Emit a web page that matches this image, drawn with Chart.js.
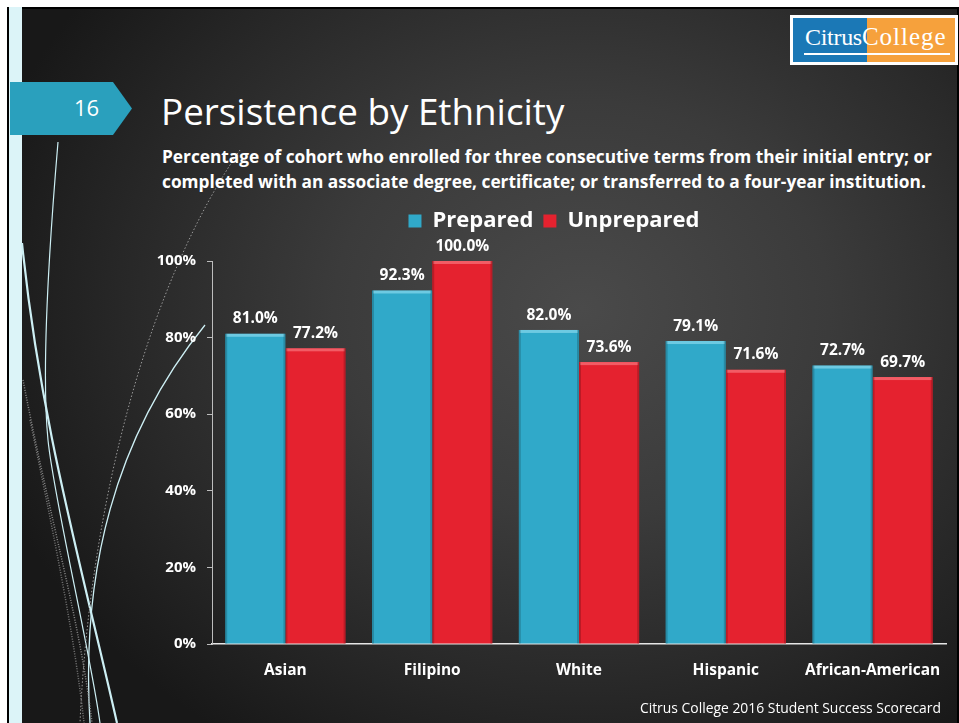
<!DOCTYPE html>
<html>
<head>
<meta charset="utf-8">
<script src="https://cdn.jsdelivr.net/npm/chart.js@4"></script>
<style>
  html, body { margin: 0; padding: 0; background: #fff; }
  #slide { position: relative; width: 959px; height: 723px; overflow: hidden; background: #fff; font-family: "Open Sans", sans-serif; }
  #frame { position: absolute; left: 7px; top: 7px; width: 952px; height: 716px; background: #000; }
  #stripe { position: absolute; left: 9px; top: 7px; width: 13px; height: 716px; background: #dcf4f8; }
  #bg { position: absolute; left: 22px; top: 9px; width: 935px; height: 714px;
        background: radial-gradient(ellipse 620px 520px at 560px 300px, #4a4a4a 0%, #3b3b3b 40%, #272727 75%, #181818 100%); }
  #deco { position: absolute; left: 0; top: 0; }
  #tab { position: absolute; left: 10px; top: 82px; width: 122px; height: 53px; background: #2aa0bd;
         clip-path: polygon(0 0, 103px 0, 122px 26.5px, 103px 53px, 0 53px); }
  #tab span { position: absolute; left: 64px; top: 10px; color: #fff; font-size: 22px; }
  #title { position: absolute; left: 161px; top: 86px; color: #fff; font-size: 36.8px; font-weight: 400; white-space: nowrap; }
  #sub { position: absolute; left: 162px; top: 144px; color: #fff; font-size: 17.3px; font-weight: 700; line-height: 25px; white-space: nowrap; }
  #logo { position: absolute; left: 790px; top: 15px; width: 168px; height: 50px; background: #fff; }
  #logo .b { position: absolute; left: 3px; top: 3px; width: 74px; height: 44px; background: #1b78b6; }
  #logo .o { position: absolute; left: 77px; top: 3px; width: 88px; height: 44px; background: #f6a13c; }
  #logo .t { position: absolute; left: 15px; top: 8px; color: #fff; font-family: "Liberation Serif", serif; font-size: 24px; letter-spacing: -0.3px; white-space: nowrap; }
  #logo .t span { font-size: 25px; letter-spacing: 1px; }
  #logo .u { position: absolute; left: 14px; top: 38px; width: 146px; height: 2px; background: #fff; }
  #chartBox { position: absolute; left: 150px; top: 200px; width: 808px; height: 523px; }
  #foot { position: absolute; right: 18px; top: 698px; color: #fff; font-size: 13.9px; white-space: nowrap; }
</style>
</head>
<body>
<div id="slide">
  <div id="frame"></div>
  <div id="bg"></div>
  <div id="stripe"></div>
  <svg id="deco" width="959" height="723">
    <g fill="none">
      <path d="M58,142 C48,260 42,380 48,440 S90,650 100,723" stroke="#cdeff4" stroke-width="1.2"/>
      <path d="M22,243 C40,420 80,560 117,723" stroke="#cdeff4" stroke-width="2.2"/>
      <path d="M205,325 C120,430 80,560 90,723" stroke="#cdeff4" stroke-width="1.3"/>
      <path d="M240,150 C150,280 90,500 80,723" stroke="#9a9a9a" stroke-width="1" stroke-dasharray="1.5 2"/>
      <path d="M23,380 C50,520 80,620 92,723" stroke="#8a8a8a" stroke-width="1.5" stroke-dasharray="1 1.5"/>
      <path d="M30,420 C55,540 75,640 84,723" stroke="#777" stroke-width="1.5" stroke-dasharray="1 1.5"/>
    </g>
  </svg>
  <div id="tab"><span>16</span></div>
  <div id="title">Persistence by Ethnicity</div>
  <div id="sub">Percentage of cohort who enrolled for three consecutive terms from their initial entry; or<br>completed with an associate degree, certificate; or transferred to a four-year institution.</div>
  <div id="logo"><div class="b"></div><div class="o"></div><div class="t">Citrus<span>College</span></div><div class="u"></div></div>
  <div id="chartBox"><canvas id="chart"></canvas></div>
  <div id="foot">Citrus College 2016 Student Success Scorecard</div>
</div>
<script>
const categories = ['Asian', 'Filipino', 'White', 'Hispanic', 'African-American'];
const prepared = [81.0, 92.3, 82.0, 79.1, 72.7];
const unprepared = [77.2, 100.0, 73.6, 71.6, 69.7];
const yTicks = [0, 20, 40, 60, 80, 100];

const FONT = '"Open Sans", sans-serif';

// value labels above each bar
const valueLabels = {
  id: 'valueLabels',
  afterDatasetsDraw(chart) {
    const ctx = chart.ctx;
    ctx.save();
    ctx.font = 'bold 15.5px ' + FONT;
    ctx.fillStyle = '#fff';
    ctx.textAlign = 'center';
    ctx.textBaseline = 'bottom';
    chart.data.datasets.forEach((ds, i) => {
      chart.getDatasetMeta(i).data.forEach((bar, j) => {
        ctx.fillText(ds.data[j].toFixed(1) + '%', bar.x, bar.y - 7);
      });
    });
    ctx.restore();
  }
};

// simple bevel: light top edge, darker sides
const bevel = {
  id: 'bevel',
  afterDatasetsDraw(chart) {
    const ctx = chart.ctx;
    ctx.save();
    chart.data.datasets.forEach((ds, i) => {
      const light = i === 0 ? 'rgba(160,230,245,0.55)' : 'rgba(255,150,155,0.5)';
      chart.getDatasetMeta(i).data.forEach(bar => {
        const l = bar.x - bar.width / 2, w = bar.width, t = bar.y, b = bar.base;
        ctx.fillStyle = light;
        ctx.fillRect(l + 1, t, w - 2, 3);
        ctx.fillStyle = 'rgba(0,0,0,0.18)';
        ctx.fillRect(l, t, 2, b - t);
        ctx.fillRect(l + w - 2, t, 2, b - t);
      });
    });
    ctx.restore();
  }
};

// leave a gap between legend and plot
const legendGap = {
  id: 'legendGap',
  beforeUpdate(chart) {
    const lg = chart.legend;
    if (lg && !lg._gap) {
      const fit = lg.fit;
      lg.fit = function () { fit.call(this); this.height += 19; };
      lg._gap = true;
    }
  }
};

new Chart(document.getElementById('chart'), {
  type: 'bar',
  data: {
    labels: categories,
    datasets: [
      { label: 'Prepared', data: prepared, backgroundColor: '#30a9c9' },
      { label: 'Unprepared', data: unprepared, backgroundColor: '#e5222f' }
    ]
  },
  options: {
    responsive: true,
    maintainAspectRatio: false,
    animation: false,
    layout: { padding: 0 },
    datasets: { bar: { categoryPercentage: 0.82, barPercentage: 1.0 } },
    plugins: {
      tooltip: { enabled: false },
      legend: {
        position: 'top',
        labels: {
          color: '#fff',
          font: { family: FONT, size: 22, weight: 'bold' },
          boxWidth: 13, boxHeight: 13, padding: 10,
          generateLabels(chart) {
            return chart.data.datasets.map((ds, i) => ({
              text: ds.label, fillStyle: ds.backgroundColor, strokeStyle: ds.backgroundColor,
              lineWidth: 0, fontColor: '#fff', datasetIndex: i
            }));
          }
        }
      }
    },
    scales: {
      x: {
        grid: { display: false },
        border: { color: '#e6e6e6', width: 1.5 },
        ticks: { color: '#fff', font: { family: FONT, size: 15.5, weight: 'bold' }, padding: 9 },
        afterFit(s) { s.height = 79; }
      },
      y: {
        min: 0, max: 100,
        afterBuildTicks(s) { s.ticks = yTicks.map(v => ({ value: v })); },
        grid: { drawOnChartArea: false, drawTicks: true, tickLength: 5, color: '#bdbdbd' },
        border: { color: '#bdbdbd', width: 1 },
        ticks: { color: '#fff', font: { family: FONT, size: 15, weight: 'bold' }, padding: 11,
                 callback: v => v + '%' },
        afterFit(s) { s.width = 62; }
      },
      // empty right-hand spacer so the legend centres where the slide has it
      spacer: {
        type: 'linear', position: 'right', display: true,
        grid: { display: false }, border: { display: false }, ticks: { display: false },
        afterFit(s) { s.width = 12; }
      }
    }
  },
  plugins: [valueLabels, bevel, legendGap]
});
</script>
</body>
</html>
